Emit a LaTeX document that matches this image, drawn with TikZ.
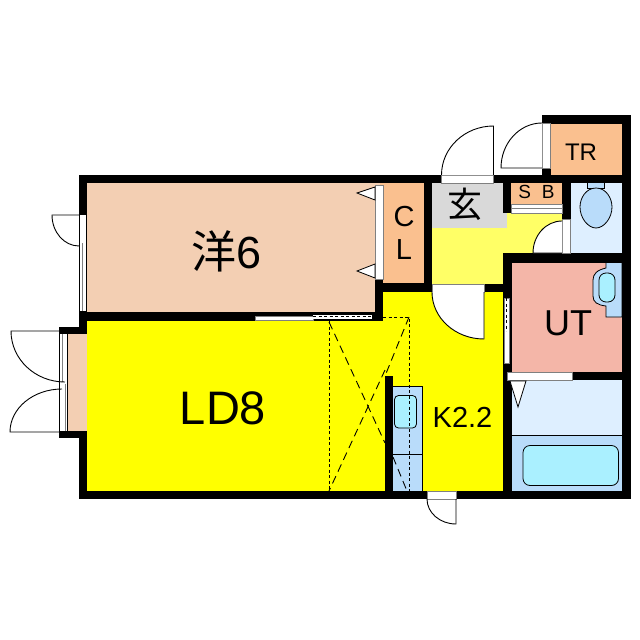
\documentclass[tikz,border=0pt]{standalone}
\usepackage{fontspec}
\setmainfont{Liberation Sans}
\newfontfamily\cjk{Noto Sans CJK JP}
\definecolor{beige}{RGB}{243,207,179}
\definecolor{orangeb}{RGB}{250,192,143}
\definecolor{yel}{RGB}{255,255,0}
\definecolor{ltyel}{RGB}{255,255,102}
\definecolor{grayroom}{RGB}{217,217,217}
\definecolor{ltblue}{RGB}{222,239,255}
\definecolor{midblue}{RGB}{185,220,250}
\definecolor{cyanb}{RGB}{170,240,255}
\definecolor{pinkb}{RGB}{244,182,168}
\tikzset{
 wall/.style={fill=black,draw=none},
 thin line/.style={draw=black,line width=0.9pt},
 doorarc/.style={draw=black,line width=0.9pt,fill=white},
 opening/.style={fill=white,draw=gray,line width=0.4pt},
 fixture/.style={draw=black,line width=0.8pt},
 dashline/.style={draw=black,line width=0.9pt,dash pattern=on 8pt off 5pt},
 dotline/.style={draw=black,line width=0.9pt,dash pattern=on 3pt off 2.5pt},
 lbl/.style={inner sep=0pt,text=black},
}
\begin{document}
\begin{tikzpicture}[x=1pt,y=-1pt]
\useasboundingbox (0,0) rectangle (640,640);
\fill[white] (0,0) rectangle (640,640);
% rooms
\fill[beige] (80,180) rectangle (380,315);
\fill[yel] (85,318) rectangle (390,495);
\fill[yel] (380,288) rectangle (507,495);
\fill[beige] (64,330) rectangle (87,434);
\fill[orangeb] (380,180) rectangle (428,288);
\fill[ltyel] (428,180) rectangle (507,288);
\fill[ltyel] (500,208) rectangle (566,256);
\fill[grayroom] (432,183) rectangle (507,228);
\fill[orangeb] (507,180) rectangle (566,204);
\fill[orangeb] (546,120) rectangle (626,180);
\fill[ltblue] (566,180) rectangle (626,256);
\fill[pinkb] (507,258) rectangle (626,376);
\fill[ltblue] (507,376) rectangle (626,436);
\fill[midblue] (507,435) rectangle (626,495);
% UT basin
\draw[fixture,fill=midblue] (606,262) -- (606,268) .. controls (597,270) and (593,274) .. (593,280) -- (593,296) .. controls (593,302) and (597,305) .. (606,306) -- (606,317) -- (622,317) -- (622,262) -- cycle;
\draw[fixture,fill=cyanb,rounded corners=7pt] (599,273) rectangle (615,302);
% Walls
\fill[wall] (79,175) rectangle (631,183);
\fill[wall] (79,183) rectangle (87,327);
\fill[wall] (79,312) rectangle (383,321);
\fill[wall] (375,279) rectangle (383,321);
\fill[wall] (375,283) rectangle (432,291.5);
\fill[wall] (424,183) rectangle (432,291.5);
\fill[wall] (432,283.5) rectangle (511,292);
\fill[wall] (503,183) rectangle (511,213);
\fill[wall] (562,183) rectangle (571,253);
\fill[wall] (503,253) rectangle (631,262.5);
\fill[wall] (503,253) rectangle (512,499);
\fill[wall] (622,115) rectangle (631,499);
\fill[wall] (542,115) rectangle (631,124);
\fill[wall] (542,115) rectangle (551,183);
\fill[wall] (512,372) rectangle (631,380);
\fill[wall] (385,376) rectangle (393,499);
\fill[wall] (79,491) rectangle (631,499);
\fill[wall] (79,431) rectangle (87,499);
\fill[wall] (59,327) rectangle (87,334);
\fill[wall] (59,431) rectangle (87,438);
% kitchen counter
\fill[midblue] (393,386) rectangle (422,491);
\draw[fixture] (393,386) -- (422,386) -- (422,491);
\draw[fixture] (393,454) -- (422,454);
\draw[fixture,fill=cyanb,rounded corners=4pt] (394.5,395.5) rectangle (416.5,428);
% dashed
\draw[dotline] (329,321) -- (329,491);
\draw[dotline] (383,317) -- (409,317) -- (409,491);
\draw[dashline] (329,322) -- (385,443);
\draw[dashline] (393,457) -- (407,491);
\draw[dashline] (409,317) -- (385,376);
\draw[dashline] (385,370) -- (329,491);
% bathtub and triangle
\draw[fixture] (512,435.5) -- (622,435.5);
\draw[fixture,fill=cyanb,rounded corners=7pt] (523,445.5) rectangle (618.5,485.5);
% toilet
\draw[fixture,fill=midblue] (587.5,183) -- (587.5,188) -- (604,188) -- (604,183);
\draw[fixture,fill=midblue] (596,188) .. controls (586,188) and (580,198) .. (580,207) .. controls (580,218) and (588,228) .. (596,228) .. controls (604,228) and (612,218) .. (612,207) .. controls (612,198) and (606,188) .. (596,188) -- cycle;
% openings
\draw[opening] (441.5,175) rectangle (493.5,183);
\draw[opening] (542,123) rectangle (550,168);
\draw[opening] (511,204) rectangle (562,213);
\draw[draw=gray,line width=0.5pt] (511,208.5) -- (562,208.5);
\draw[opening] (562,219) rectangle (570.5,253);
\draw[opening] (432,284) rectangle (484,292);
\draw[opening] (427,491) rectangle (456,499);
\draw[opening] (507.5,372) rectangle (572,380);
\draw[opening] (375,185) rectangle (383,279);
% sliding windows
\draw[opening] (504,298) rectangle (509,363);
\draw[dotline,line width=0.5pt] (506.5,298) -- (506.5,331);
\fill[white] (255,316) rectangle (313,321);
\draw[line width=0.4pt,gray] (255,316) rectangle (313,320.5);
\fill[white] (313,315) rectangle (372,318.5);
\draw[dotline,line width=0.5pt] (313,316.5) -- (372,316.5);
\draw[line width=0.6pt] (255,314.5) -- (340,314.5);
\fill[white] (79,215) rectangle (87,311);
\draw[line width=0.6pt] (79.5,215) -- (79.5,311) (86.5,215) -- (86.5,311);
\draw[line width=0.6pt,gray] (82.5,243) -- (82.5,311);
\fill[white] (59,334) rectangle (67,431);
\draw[line width=1pt] (59.5,334) -- (59.5,431);
\draw[line width=1pt,gray] (62,334) -- (62,382);
\draw[line width=1pt,gray] (65.5,384) -- (65.5,431);
\draw[line width=0.6pt] (67,334) -- (67,431);
% doors
\fill[white] (493.5,175) -- (493.5,126) arc[start angle=90,end angle=180,x radius=52,y radius=-49] -- cycle;
\draw[doorarc,fill=none] (493.5,175) -- (493.5,126) arc[start angle=90,end angle=180,x radius=52,y radius=-49];
\draw[doorarc] (542,168) -- (501,168) arc[start angle=180,end angle=90,x radius=41,y radius=-45];
\draw[doorarc] (562,253) -- (533,253) arc[start angle=180,end angle=90,x radius=29,y radius=-32];
\fill[white] (484,292) -- (484,339) arc[start angle=270,end angle=180,x radius=52,y radius=-47] -- cycle;
\draw[doorarc,fill=none] (484,292) -- (484,339) arc[start angle=270,end angle=180,x radius=52,y radius=-47];
\draw[doorarc,fill=none] (456,499) -- (456,524) arc[start angle=270,end angle=180,x radius=29,y radius=-25];
\draw[doorarc,fill=none] (79,215) -- (52,215) arc[start angle=180,end angle=270,x radius=27,y radius=-31];
\draw[doorarc,fill=none] (59,331) -- (11,331) arc[start angle=180,end angle=270,x radius=54,y radius=-51];
\draw[doorarc,fill=none] (59,432) -- (10,432) arc[start angle=180,end angle=90,x radius=52,y radius=-43];
% triangles
\draw[fixture,fill=white] (375,187) -- (357,193) -- (375,200) -- cycle;
\draw[fixture,fill=white] (375,264) -- (357,271) -- (375,278) -- cycle;
\draw[fixture,fill=white] (510,381) -- (526,381) -- (518,407) -- cycle;
% labels
\node[lbl,font=\fontsize{45}{45}\selectfont] (room6) at (227,251) {{\cjk 洋}6};
\node[lbl,font=\fontsize{47}{47}\selectfont] (ld) at (223,408) {LD8};
\node[lbl,font=\fontsize{29}{29}\selectfont] (cc) at (404,217) {C};
\node[lbl,font=\fontsize{29}{29}\selectfont] (ll) at (404,250) {L};
\node[lbl,font=\fontsize{35}{35}\selectfont\cjk] (gen) at (465,204) {玄};
\node[lbl,font=\fontsize{19}{19}\selectfont] (sb) at (536.5,192) {S\hspace{11pt}B};
\node[lbl,font=\fontsize{24}{24}\selectfont] (tr) at (581,152) {TR};
\node[lbl,font=\fontsize{36}{36}\selectfont] (ut) at (568,323) {UT};
\node[lbl,font=\fontsize{29}{29}\selectfont] (k) at (462.5,417) {K2.2};
\end{tikzpicture}
\end{document}
